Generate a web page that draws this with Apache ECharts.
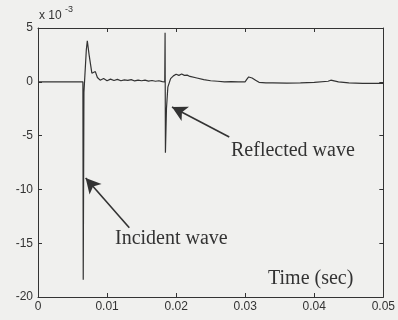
<!DOCTYPE html>
<html>
<head>
<meta charset="utf-8">
<script src="https://cdn.jsdelivr.net/npm/echarts@6/dist/echarts.min.js"></script>
<style>
  html, body { margin: 0; padding: 0; background: #f0f0ee; }
  #chart { width: 398px; height: 320px; }
</style>
</head>
<body>
<div id="chart"></div>
<script>
// time (s) and signal (x 1e-3)
const time = [
  0, 0.0065, 0.00655, 0.00665, 0.0070, 0.00714, 0.0074, 0.0078, 0.0080, 0.0083, 0.0086, 0.0090,
  0.0095, 0.0100, 0.0105, 0.0110, 0.0115, 0.0120, 0.0125, 0.0130, 0.0135, 0.0140, 0.0145,
  0.0150, 0.0155, 0.0160, 0.0165, 0.0170, 0.0175, 0.0180, 0.01835, 0.0184, 0.01845, 0.0186,
  0.0188, 0.0192, 0.0196, 0.0200, 0.0204, 0.0208, 0.0212, 0.0216, 0.0220, 0.0230, 0.0240,
  0.0250, 0.0260, 0.0270, 0.0280, 0.0290, 0.0300, 0.0302, 0.0305, 0.0310, 0.0315, 0.0320,
  0.0330, 0.0340, 0.0360, 0.0380, 0.0400, 0.0420, 0.0424, 0.0435, 0.0450, 0.0470, 0.0500
];
const signal = [
  0, 0, -18.4, -1.0, 3.0, 3.8, 2.5, 0.8, 0.9, 0.95, 0.4, 0.15,
  0.3, 0.1, 0.25, 0.12, 0.22, 0.1, 0.18, 0.14, 0.2, 0.08, 0.16,
  0.1, 0.15, 0.06, 0.12, 0.05, 0.1, 0.02, 0.0, 4.56, -6.6, -2.5,
  -0.5, 0.3, 0.55, 0.7, 0.6, 0.72, 0.6, 0.62, 0.5, 0.35, 0.2,
  0.1, 0.05, 0.0, 0.02, 0.0, 0.0, 0.2, 0.45, 0.35, 0.15, -0.05,
  -0.1, -0.1, -0.12, -0.1, -0.05, 0.05, 0.15, 0.0, -0.1, -0.15, -0.15
];
const xTicks = [0, 0.01, 0.02, 0.03, 0.04, 0.05];
const yTicks = [-20, -15, -10, -5, 0, 5];
// arrows: [tail, head] in data coords
const arrows = [
  [[0.01322, -13.56], [0.0069, -8.94]],
  [[0.02769, -5.13], [0.0194, -2.34]]
];
const notes = ['Incident wave', 'Reflected wave', 'Time (sec)'];

const chart = echarts.init(document.getElementById('chart'));
const ink = '#333';
const axisCommon = {
  type: 'value',
  axisLine: { show: true, onZero: false, lineStyle: { color: ink, width: 1 } },
  axisTick: { show: true, inside: true, length: 4, lineStyle: { color: ink } },
  splitLine: { show: false }
};
const xBase = Object.assign({}, axisCommon, {
  min: xTicks[0], max: xTicks[xTicks.length - 1], interval: 0.01
});
const yBase = Object.assign({}, axisCommon, {
  min: yTicks[0], max: yTicks[yTicks.length - 1], interval: 5
});

chart.setOption({
  backgroundColor: '#f0f0ee',
  animation: false,
  grid: { left: 38, right: 12, top: 28, bottom: 23 },
  xAxis: [
    Object.assign({}, xBase, {
      position: 'bottom',
      axisLabel: {
        color: ink, fontSize: 12, fontFamily: 'Liberation Sans', margin: 4,
        formatter: v => v === 0 ? '0' : v.toFixed(2)
      }
    }),
    Object.assign({}, xBase, { position: 'top', axisLabel: { show: false } })
  ],
  yAxis: [
    Object.assign({}, yBase, {
      position: 'left',
      axisLabel: { color: ink, fontSize: 12, fontFamily: 'Liberation Sans', margin: 5 }
    }),
    Object.assign({}, yBase, { position: 'right', axisLabel: { show: false } })
  ],
  series: [{
    type: 'line',
    data: time.map((t, i) => [t, signal[i]]),
    showSymbol: false,
    lineStyle: { color: ink, width: 1.2 },
    markLine: {
      silent: true,
      symbol: ['none', 'arrow'],
      symbolSize: [12, 15],
      label: { show: false },
      lineStyle: { color: ink, width: 1.6, type: 'solid' },
      data: arrows.map(a => [{ coord: a[0] }, { coord: a[1] }])
    }
  }],
  graphic: [
    { type: 'text', left: 115, top: 229,
      style: { text: notes[0], font: '20px "Liberation Serif"', fill: ink } },
    { type: 'text', left: 231, top: 141,
      style: { text: notes[1], font: '20px "Liberation Serif"', fill: ink } },
    { type: 'text', left: 268, top: 269,
      style: { text: notes[2], font: '20px "Liberation Serif"', fill: ink } },
    { type: 'text', left: 39, top: 10,
      style: { text: 'x 10', font: '12px "Liberation Sans"', fill: ink } },
    { type: 'text', left: 65, top: 5,
      style: { text: '-3', font: '9px "Liberation Sans"', fill: ink } }
  ]
});
</script>
</body>
</html>
